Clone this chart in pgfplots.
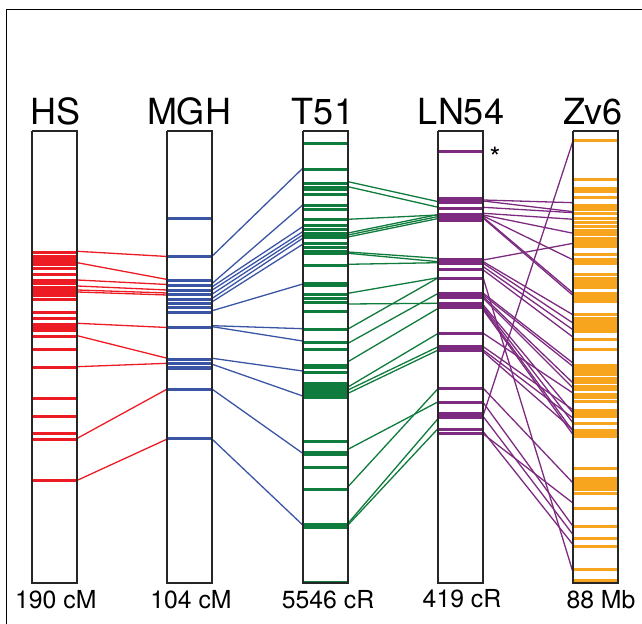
\documentclass[border=0pt]{standalone}
\usepackage{pgfplots}
\pgfplotsset{compat=1.18}
\usepackage{fontspec}
\setmainfont{TeX Gyre Heros}
\definecolor{cred}{HTML}{ED1C24}
\definecolor{cblue}{HTML}{3B55A5}
\definecolor{cgreen}{HTML}{0F7B3C}
\definecolor{cpurple}{HTML}{7D2B80}
\definecolor{corange}{HTML}{F7A51E}
\pgfplotsset{
  colbar/.style={draw=none, mark=none,
    error bars/x dir=both, error bars/x fixed=22.5, error bars/error mark=none,
    error bars/error bar style={line width=1.5pt, draw=#1, solid}},
  link/.style={draw=#1, line width=0.65pt, mark=none},
  box/.style={draw=black!85, line width=0.85pt, mark=none},
}
\begin{document}
\begin{tikzpicture}
\begin{axis}[
  scale only axis, width=321pt, height=312pt,
  xmin=0, xmax=642, ymin=0, ymax=624, y dir=reverse,
  axis lines=none, clip=false,
]
% ---------------- column bars ----------------
\addplot[colbar=cred] table[row sep=\\, x expr=54.8, y=y] {y\\
252.3\\257\\259\\261\\263\\265\\268.3\\275\\280.7\\283.3\\287.5\\289.5\\291.5\\293.3\\295.5\\300\\312.7\\319\\324.5\\326.5\\328.5\\330.5\\336.7\\349.3\\367.3\\399\\416.7\\433.3\\439.3\\480.7\\};
\addplot[colbar=cblue] table[row sep=\\, x expr=189.8, y=y] {y\\
219\\256.7\\281\\286\\290.7\\295\\299.3\\303.3\\307.3\\312.3\\327.7\\359.3\\363.3\\367.3\\369\\389.3\\439\\};
\addplot[colbar=cgreen] table[row sep=\\, x expr=325.3, y=y] {y\\
144\\169.3\\183.3\\187.3\\190\\194.3\\206\\210\\220\\226\\230\\233.5\\235.5\\237.5\\244\\247.3\\251.7\\254\\266\\283.5\\285.5\\295\\298.3\\302.7\\311.7\\329.3\\342.3\\349.3\\366\\368\\372.7\\384\\386\\388\\390\\392\\394\\396\\398\\441.7\\452.5\\454.5\\467.3\\489.3\\525\\527\\582.3\\};
\addplot[colbar=cpurple] table[row sep=\\, x expr=460.8, y=y] {y\\
151.7\\198.5\\200.5\\202.5\\209\\215\\217\\219\\221\\260\\262\\264\\270\\278.3\\293.5\\295.5\\297.5\\304\\306\\308\\333.3\\347\\349\\351\\388.3\\402.7\\413.5\\415.5\\417.5\\430\\434\\};
\addplot[colbar=corange] table[row sep=\\, x expr=595.8, y=y] {y\\
141\\179.3\\188.3\\191.7\\197.3\\205.5\\207.5\\209.5\\214\\218.3\\222.7\\226.7\\230.5\\232.5\\234.5\\239\\241\\243\\245\\246.7\\255\\259.5\\261.5\\263.3\\275\\278.5\\280.5\\283\\285.5\\288\\293.5\\295.5\\297.5\\299.5\\301.5\\315\\318.3\\322\\324\\326\\328\\330\\331.7\\339.3\\349.3\\365.5\\367.5\\369.5\\371.5\\375\\379\\381\\383\\386.7\\390\\395\\397.5\\401.7\\410.5\\412.5\\414.5\\416.5\\423.3\\430.5\\432.5\\434.5\\436.5\\468.3\\478.5\\480.5\\482.5\\484.5\\486.5\\488.5\\490\\493.3\\508.3\\526.7\\538.3\\546.7\\569.3\\580\\};
% ---------------- links (a = left column, b = right column) ----------------
\addplot[link=cred, quiver={u=90, v=\thisrow{b}-\thisrow{a}}] table[row sep=\\, x expr=77.3, y=a] {a b\\
251.3 256.5\\262.7 279.5\\280 284.5\\286 290\\290 293\\292 295\\323.3 327.5\\335.7 358.3\\366.7 363.3\\438.3 389\\480.3 439\\};
\addplot[link=cblue, quiver={u=90.4, v=\thisrow{b}-\thisrow{a}}] table[row sep=\\, x expr=212.3, y=a] {a b\\
256 168.3\\283.3 205\\286.7 226.7\\290 231.7\\294 235\\298.3 238.3\\301.7 244.3\\310.7 284\\325.7 328.7\\326.7 341\\358.3 371\\364.3 396\\389.3 453.3\\439.3 525\\};
\addplot[link=cgreen, quiver={u=90.3, v=\thisrow{b}-\thisrow{a}}] table[row sep=\\, x expr=348, y=a] {a b\\
181.7 201.7\\186.7 207.3\\219.3 215\\233 214.5\\235 216.5\\237 218.5\\252 258.3\\253.3 261.7\\264.3 262.7\\293.3 277.7\\304 303.3\\329 277.7\\343.3 293.3\\361.7 308.3\\387 333.3\\390 346.7\\393.3 350\\449.3 401.7\\486.7 388.3\\523.3 418.3\\525 428.3\\};
\addplot[link=cpurple, quiver={u=90, v=\thisrow{b}-\thisrow{a}}] table[row sep=\\, x expr=483.3, y=a] {a b\\
200 202.7\\201 211.7\\207.3 212.7\\213.3 219.3\\215 233.3\\216 260\\217.3 293.3\\218.3 295.7\\260 243.3\\261.7 315\\263.3 323.3\\266.7 330\\270 337.3\\278.3 573.3\\293.3 363.3\\295 366.7\\296.7 383.3\\298.3 388.3\\305 413.3\\306.7 423.3\\308.3 431.7\\310 435\\333.3 393.3\\346.7 410\\350 418.3\\351.7 430\\388.3 483.3\\402.7 526.7\\415 140\\416.7 535\\431.7 545\\434 503.3\\};
% ---------------- column outlines ----------------
\addplot[box] coordinates {(32.3,131) (77.3,131) (77.3,583) (32.3,583) (32.3,131)};
\addplot[box] coordinates {(167.3,131) (212.3,131) (212.3,583) (167.3,583) (167.3,131)};
\addplot[box] coordinates {(302.7,131) (348,131) (348,583) (302.7,583) (302.7,131)};
\addplot[box] coordinates {(438.3,131) (483.3,131) (483.3,583) (438.3,583) (438.3,131)};
\addplot[box] coordinates {(573.3,131) (618.3,131) (618.3,583) (573.3,583) (573.3,131)};
% frame
\addplot[black, line width=0.5pt, mark=none] coordinates {(6.7,624) (6.7,9.3) (641.7,9.3)};
% ---------------- labels ----------------
\begin{scope}[every node/.style={anchor=base, font=\fontsize{18}{21}\selectfont}]
\node at (axis cs:55.8,125) {HS};
\node at (axis cs:189,125) {MGH};
\node at (axis cs:323,125) {T51};
\node at (axis cs:461,125) {LN54};
\node at (axis cs:593,125) {Zv6};
\end{scope}
\begin{scope}[every node/.style={anchor=base, font=\fontsize{12.4}{14}\selectfont}]
\node at (axis cs:55.8,608) {190 cM};
\node at (axis cs:191,608) {104 cM};
\node at (axis cs:328,608) {5546 cR};
\node at (axis cs:462,607) {419 cR};
\node at (axis cs:601,608) {88 Mb};
\end{scope}
\node[anchor=base, font=\fontsize{14}{16}\selectfont] at (axis cs:495,168) {*};
\end{axis}
\pgfresetboundingbox
\path[use as bounding box] (current axis.south west) rectangle (current axis.north east);
\end{tikzpicture}
\end{document}
